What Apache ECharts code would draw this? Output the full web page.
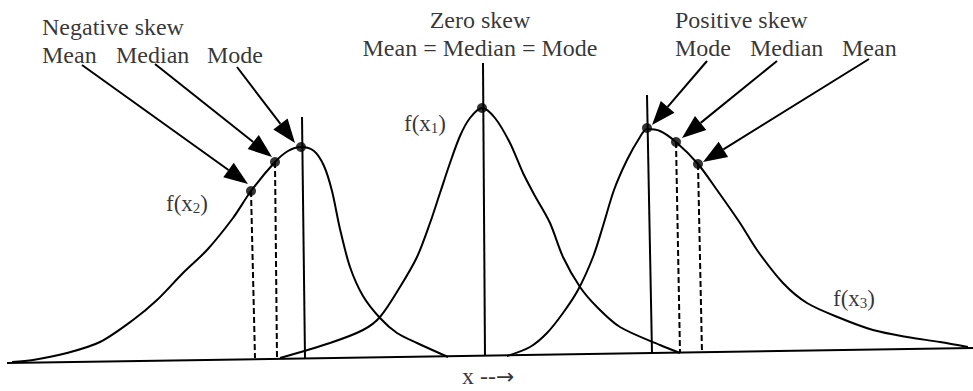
<!DOCTYPE html>
<html><head><meta charset="utf-8">
<script src="https://cdn.jsdelivr.net/npm/echarts@6/dist/echarts.min.js"></script>
<style>html,body{margin:0;padding:0;background:#fff}#c{width:973px;height:391px}</style>
</head><body><div id="c"></div>
<script>
// Curves: [x, height] pairs
var negSkew = [[12,29],[33,31],[67,38],[100,49],[133,71],[157,91],[183,118],[207,141],[233,173],[251,200],[275,229],[288,240],[301,244],[314,240],[324,225],[332,200],[340,162],[350,124],[363,95],[380,73],[397,58],[417,48],[448,34]];
var zeroSkew = [[280,33],[330,48],[363,61],[380,74],[400,104],[417,134],[430,168],[440,198],[450,228],[460,255],[470,273],[482,283],[495,273],[510,248],[523,218],[535,195],[550,168],[563,134],[580,104],[597,84],[620,64],[660,46],[680,38]];
var posSkew = [[507,35],[530,44],[547,58],[563,78],[578,101],[593,134],[603,165],[614,201],[627,231],[640,254],[647,262],[660,260],[676,249],[698,227],[717,201],[740,168],[757,141],[783,108],[807,88],[840,73],[873,61],[907,54],[940,49],[968,44]];
// Highlighted points (mean / median / mode)
var points = [[251,200],[275,229],[301,244],[482,283],[647,263],[676,249],[698,227]];
// Segments: x1, y1, x2, y2, dashed(1/0)
var segments = [
  [7,28,973,43,0],
  [302,274,305,33,0],
  [275,229,277,33,1],
  [251,200,255,33,1],
  [483,328,485,35,0],
  [647,296,652,38,0],
  [676,249,680,38,1],
  [698,227,702,38,1]
];
// Arrows: start x, start y, tip x, tip y
var arrows = [
  [82,326,248,207],
  [155,327,272,234],
  [237,324,295,248],
  [707,330,652,266],
  [777,330,682,253],
  [869,332,703,229]
];
// Text labels: text, x, y, align
var labels = [
  ['Negative skew',42,364,'left'],
  ['Mean',42,336,'left'],
  ['Median',116,336,'left'],
  ['Mode',207,336,'left'],
  ['Zero skew',480,371,'center'],
  ['Mean = Median = Mode',480,343,'center'],
  ['Positive skew',675,371,'left'],
  ['Mode',675,343,'left'],
  ['Median',750,343,'left'],
  ['Mean',842,343,'left'],
  ['f(x{s|1})',404,268,'left'],
  ['f(x{s|2})',166,188,'left'],
  ['f(x{s|3})',833,93,'left'],
  ['x --{a|\u2192}',462,15,'left']
];

var FONT = 'Liberation Serif';
var chart = echarts.init(document.getElementById('c'), null, {renderer:'svg'});
function curve(d){
  return {type:'line', data:d, smooth:0.3, symbol:'none', silent:true,
    lineStyle:{color:'#000', width:2}};
}
chart.setOption({
  animation:false,
  backgroundColor:'#fff',
  textStyle:{fontFamily:FONT},
  grid:{left:0,right:0,top:0,bottom:0},
  xAxis:{type:'value',min:0,max:973,show:false},
  yAxis:{type:'value',min:0,max:391,show:false},
  series:[
    curve(negSkew), curve(zeroSkew), curve(posSkew),
    {type:'custom', data:segments, renderItem:function(params, api){
      var a = api.coord([api.value(0), api.value(1)]);
      var b = api.coord([api.value(2), api.value(3)]);
      return {type:'line', shape:{x1:a[0],y1:a[1],x2:b[0],y2:b[1]},
        style:{stroke:'#000', lineWidth:2, lineDash: api.value(4) ? [6,3] : null}};
    }},
    {type:'custom', data:arrows, renderItem:function(params, api){
      var a = api.coord([api.value(0), api.value(1)]);
      var t = api.coord([api.value(2), api.value(3)]);
      var dx = t[0]-a[0], dy = t[1]-a[1], len = Math.sqrt(dx*dx+dy*dy);
      var ux = dx/len, uy = dy/len, L = 24, W = 9;
      var bx = t[0]-ux*L, by = t[1]-uy*L;
      return {type:'group', children:[
        {type:'line', shape:{x1:a[0],y1:a[1],x2:bx,y2:by}, style:{stroke:'#000', lineWidth:2}},
        {type:'polygon', shape:{points:[[t[0],t[1]],[bx-uy*W,by+ux*W],[bx+uy*W,by-ux*W]]}, style:{fill:'#000'}}
      ]};
    }},
    {type:'scatter', data:points, symbol:'circle', symbolSize:10, itemStyle:{color:'#000'}, z:5},
    {type:'scatter', symbolSize:0, z:6,
      data: labels.map(function(l){
        return {value:[l[1], l[2]], label:{show:true, position:'inside', formatter:l[0], align:l[3],
          verticalAlign:'middle', color:'#000', fontFamily:FONT, lineHeight:20,
          fontSize: (l[0].indexOf('f(')===0 ? 23 : 24),
          rich:{s:{fontSize:15, fontFamily:FONT, color:'#000', lineHeight:20, padding:[10,0,0,0]},
                a:{fontSize:22, fontFamily:'DejaVu Sans', color:'#000', lineHeight:18}}}};
      })
    }
  ]
});
</script></body></html>
